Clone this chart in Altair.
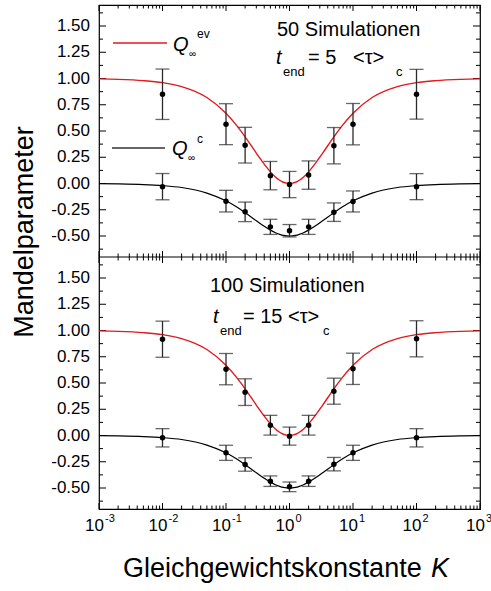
import altair as alt
import pandas as pd

# ---------------- data ----------------
K = [0.01, 0.1, 0.2, 0.5, 1, 2, 5, 10, 100]

top_ev = [0.85, 0.565, 0.365, 0.075, -0.01, 0.08, 0.36, 0.565, 0.85]
top_ev_err = [0.24, 0.195, 0.17, 0.135, 0.125, 0.135, 0.173, 0.197, 0.237]
top_c = [-0.03, -0.168, -0.27, -0.413, -0.45, -0.413, -0.273, -0.171, -0.03]
top_c_err = [0.125, 0.103, 0.093, 0.072, 0.059, 0.072, 0.088, 0.10, 0.124]

bot_ev = [0.917, 0.632, 0.413, 0.098, -0.006, 0.098, 0.422, 0.635, 0.921]
bot_ev_err = [0.172, 0.149, 0.127, 0.094, 0.086, 0.094, 0.124, 0.149, 0.172]
bot_c = [-0.022, -0.165, -0.276, -0.435, -0.489, -0.435, -0.273, -0.165, -0.022]
bot_c_err = [0.087, 0.072, 0.064, 0.05, 0.046, 0.05, 0.064, 0.072, 0.087]

curve_K = [0.001, 0.002, 0.005, 0.01, 0.02, 0.05, 0.1, 0.15, 0.2, 0.3, 0.4, 0.5,
           0.6, 0.7, 0.8, 0.9, 1.0, 1.111, 1.25, 1.429, 1.667, 2.0, 2.5, 3.333,
           5.0, 6.667, 10, 20, 50, 100, 200, 500, 1000]
curve_ev = [0.996, 0.992, 0.980, 0.961, 0.923, 0.819, 0.669, 0.546, 0.444, 0.290,
            0.184, 0.111, 0.0625, 0.031, 0.012, 0.003, 0.0, 0.003, 0.012, 0.031,
            0.0625, 0.111, 0.184, 0.290, 0.444, 0.546, 0.669, 0.819, 0.923,
            0.961, 0.980, 0.992, 0.996]
curve_c = [-0.002, -0.004, -0.010, -0.020, -0.038, -0.091, -0.165, -0.227, -0.278,
           -0.355, -0.408, -0.444, -0.469, -0.484, -0.494, -0.499, -0.500, -0.499,
           -0.494, -0.484, -0.469, -0.444, -0.408, -0.355, -0.278, -0.227, -0.165,
           -0.091, -0.038, -0.020, -0.010, -0.004, -0.002]

x_major = [0.001, 0.01, 0.1, 1, 10, 100, 1000]
x_exp = ["-3", "-2", "-1", "0", "1", "2", "3"]
x_minor = [m * d for d in x_major[:-1] for m in range(2, 10)]
y_major = [-0.5, -0.25, 0.0, 0.25, 0.5, 0.75, 1.0, 1.25, 1.5]
y_labels = ["-0.50", "-0.25", "0.00", "0.25", "0.50", "0.75", "1.00", "1.25", "1.50"]
y_minor = [-0.625, -0.375, -0.125, 0.125, 0.375, 0.625, 0.875, 1.125, 1.375, 1.625]

# ---------------- styling ----------------
FONT = "Liberation Sans"
RED = "#e3191c"
BAR = "#2a2a2a"
W, PH = 381, 252          # plot width, height of one panel
H = 2 * PH

xs = alt.Scale(type="log", domain=[0.001, 1000], nice=False)
X = alt.X("K:Q", scale=xs, axis=None)


def make_Y(domain):
    sc = alt.Scale(domain=domain, nice=False, zero=False)

    def Y(f):
        return alt.Y(f"{f}:Q", scale=sc, axis=None)
    return Y


def txt(s, x, y, size, italic=False, align="left", angle=None):
    kw = dict(align=align, baseline="alphabetic", fontSize=size, font=FONT, color="black")
    if italic:
        kw["fontStyle"] = "italic"
    if angle is not None:
        kw["angle"] = angle
    return alt.Chart(pd.DataFrame({"s": [s]})).mark_text(**kw).encode(
        x=alt.value(x), y=alt.value(y), text="s:N")


def xticks(vals, y0, y1):
    return alt.Chart(pd.DataFrame({"K": vals})).mark_rule(color="black", strokeWidth=1).encode(
        x=X, y=alt.value(y0), y2=alt.value(y1))


def panel(Y, ev, ev_err, c, c_err, top_px, extra):
    def yticks(vals, x0, x1):
        return alt.Chart(pd.DataFrame({"yt": vals})).mark_rule(color="black", strokeWidth=1).encode(
            y=Y("yt"), x=alt.value(x0), x2=alt.value(x1))

    df = pd.DataFrame({"K": K + K, "v": ev + c, "e": ev_err + c_err})
    curves = pd.DataFrame({"K": curve_K, "ev": curve_ev, "c": curve_c})
    b = top_px + PH
    layers = [
        yticks(y_major, 0, 7), yticks(y_minor, 0, 4),
        yticks(y_major, W - 7, W), yticks(y_minor, W - 4, W),
        xticks(x_major, top_px, top_px + 6), xticks(x_minor, top_px, top_px + 3.5),
        xticks(x_major, b - 6, b), xticks(x_minor, b - 3.5, b),
        alt.Chart(pd.DataFrame({"yv": y_major, "lab": y_labels})).mark_text(
            align="right", baseline="middle", dx=-9, fontSize=17, font=FONT, color="black").encode(
            x=alt.value(0), y=Y("yv"), text="lab:N"),
        alt.Chart(curves).mark_line(color=RED, strokeWidth=1.4, interpolate="monotone").encode(x=X, y=Y("ev")),
        alt.Chart(curves).mark_line(color="black", strokeWidth=1.2, interpolate="monotone").encode(x=X, y=Y("c")),
    ]
    bars = alt.Chart(df).transform_calculate(lo="datum.v - datum.e", hi="datum.v + datum.e")
    layers += [
        bars.mark_rule(color=BAR, strokeWidth=1.3).encode(x=X, y=Y("lo"), y2=alt.Y2("hi:Q")),
        bars.mark_tick(orient="horizontal", size=14, thickness=1.3, color=BAR).encode(x=X, y=Y("lo")),
        bars.mark_tick(orient="horizontal", size=14, thickness=1.3, color=BAR).encode(x=X, y=Y("hi")),
        alt.Chart(df).mark_circle(size=30, color="black", opacity=1).encode(x=X, y=Y("v")),
    ]
    layers += extra
    return alt.layer(*layers)


def hline(color, x0, x1, y, width=1.5):
    return alt.Chart(pd.DataFrame({"a": [0]})).mark_rule(color=color, strokeWidth=width).encode(
        x=alt.value(x0), x2=alt.value(x1), y=alt.value(y))


top_extra = [
    hline(RED, 14, 68, 38),
    txt("Q", 74, 46, 20, italic=True), txt("∞", 90, 52, 10), txt("ev", 98, 33, 12),
    hline("#333333", 13, 66, 143),
    txt("Q", 73, 150, 20, italic=True), txt("∞", 89, 156, 10), txt("c", 98, 138, 12),
    txt("50 Simulationen", 178, 31, 20),
    txt("t", 177, 59, 20, italic=True), txt("end", 184, 71, 13),
    txt("= 5", 209, 59, 20), txt("<τ>", 254, 59, 20), txt("c", 297, 71, 13),
    txt("Mandelparameter", -66, 227, 27, align="center", angle=270),
]

xlab = alt.Chart(pd.DataFrame({"K": x_major, "exp": x_exp}))
bot_extra = [
    hline("black", 0, W, PH, 1.2),
    txt("100 Simulationen", 111, PH + 35, 20),
    txt("t", 114, PH + 66, 20, italic=True), txt("end", 121, PH + 78, 13),
    txt("= 15 <τ>", 144, PH + 66, 20), txt("c", 224, PH + 78, 13),
    xlab.mark_text(align="right", dx=5, baseline="alphabetic", fontSize=17, font=FONT, color="black").encode(
        x=X, y=alt.value(H + 22), text=alt.value("10")),
    xlab.mark_text(align="left", dx=6, baseline="alphabetic", fontSize=11, font=FONT, color="black").encode(
        x=X, y=alt.value(H + 13), text="exp:N"),
    txt("Gleichgewichtskonstante ", 24, H + 68, 27),
    txt("K", 332, H + 68, 27, italic=True),
]

Y_top = make_Y([-3.1, 1.7])
Y_bot = make_Y([-0.7, 4.1])

top = panel(Y_top, top_ev, top_ev_err, top_c, top_c_err, 0, top_extra)
bottom = panel(Y_bot, bot_ev, bot_ev_err, bot_c, bot_c_err, PH, bot_extra)

chart = alt.layer(top, bottom).resolve_scale(y="independent").properties(
    width=W, height=H,
    autosize=alt.AutoSizeParams(type="none"),
    padding={"left": 99, "top": 5, "right": 11, "bottom": 82},
    background="white",
).configure_view(stroke="black", strokeWidth=1.2)

chart.save("out.html", embed_options={"renderer": "svg", "actions": False})
